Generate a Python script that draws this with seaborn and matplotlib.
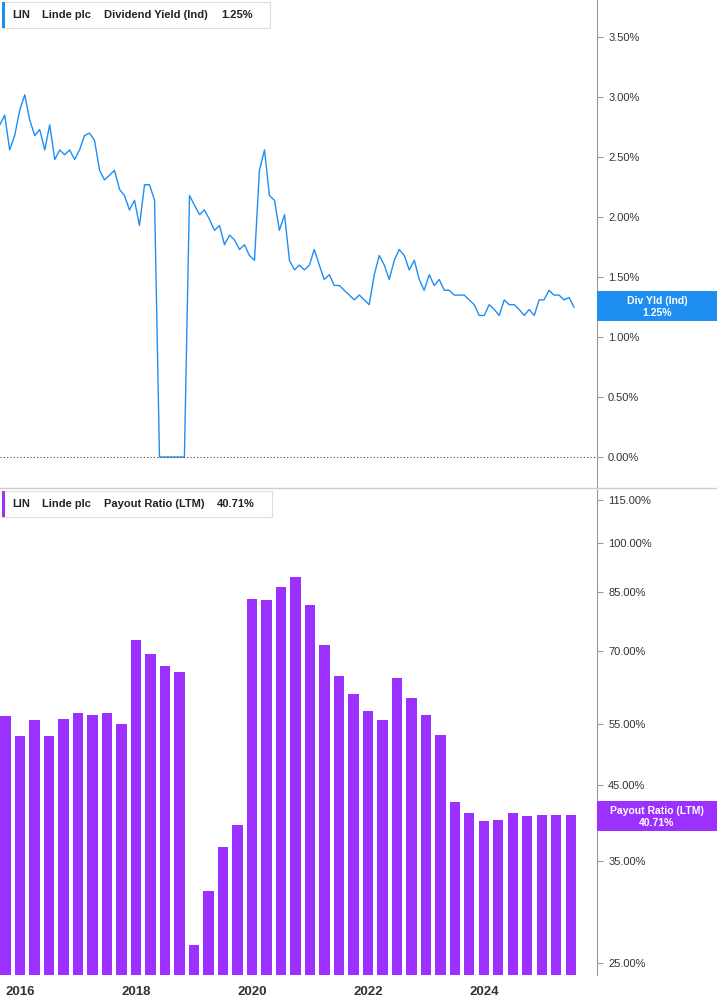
import numpy as np
import pandas as pd
import matplotlib
matplotlib.use("Agg")
import matplotlib.pyplot as plt
import matplotlib.ticker as mt
import seaborn as sns

# ---- data ----
yield_vals = [2.77,2.85,2.56,2.68,2.89,3.02,2.81,2.68,2.73,2.56,2.77,2.48,2.56,2.52,2.56,2.48,
              2.56,2.68,2.70,2.64,2.39,2.31,2.35,2.39,2.23,2.18,2.06,2.14,1.93,2.27,2.27,2.14,
              0,0,0,0,0,0,2.18,2.10,2.02,2.06,1.98,1.89,1.93,1.77,1.85,1.81,1.73,1.77,1.68,1.64,
              2.39,2.56,2.18,2.14,1.89,2.02,1.64,1.56,1.60,1.56,1.60,1.73,1.60,1.48,1.52,1.43,
              1.43,1.39,1.35,1.31,1.35,1.31,1.27,1.52,1.68,1.60,1.48,1.64,1.73,1.68,1.56,1.64,
              1.48,1.39,1.52,1.43,1.48,1.39,1.39,1.35,1.35,1.35,1.31,1.27,1.18,1.18,1.27,1.23,
              1.18,1.31,1.27,1.27,1.23,1.18,1.23,1.18,1.31,1.31,1.39,1.35,1.35,1.31,1.33,1.25]
yield_start = "2015-08-27"

payout_vals = [56.5,52.9,55.7,52.9,55.9,57.0,56.6,57.0,55.0,72.6,69.3,66.6,65.3,26.5,31.7,36.7,
               39.4,83.1,82.7,86.5,89.4,81.5,71.4,64.5,60.8,57.4,55.7,64.1,60.0,56.6,53.0,42.5,
               41.0,40.0,40.1,41.0,40.6,40.8,40.8,40.71]
payout_start = 2015.75

yield_ticks = [0, 0.5, 1.0, 1.5, 2.0, 2.5, 3.0, 3.5]
payout_ticks = [25, 35, 45, 55, 70, 85, 100, 115]
year_ticks = [2016, 2018, 2020, 2022, 2024]

BLUE = "#1f8ef1"
PURPLE = "#9b30ff"
FONT = "Liberation Sans"

dates = pd.date_range(yield_start, periods=len(yield_vals), freq="755h")
yrs = dates.year + (dates.dayofyear - 1) / 365.25
df_y = pd.DataFrame({"t": yrs, "v": yield_vals})
df_p = pd.DataFrame({"t": payout_start + np.arange(len(payout_vals)) * 0.25, "v": payout_vals})

plt.rcParams["font.family"] = FONT
fig = plt.figure(figsize=(7.17, 10.05), dpi=100)
W = 597 / 717
ax1 = fig.add_axes([0, 1 - 487 / 1005, W, 487 / 1005])
ax2 = fig.add_axes([0, 30 / 1005, W, 485 / 1005])

sns.lineplot(data=df_y, x="t", y="v", ax=ax1, color=BLUE, lw=1.0)
ax1.axhline(0, color="#444444", ls=(0, (1, 2)), lw=0.8)
ax1.set_ylim(-0.25, 3.81)

sns.barplot(data=df_p, x="t", y="v", ax=ax2, native_scale=True, color=PURPLE,
            saturation=1, width=0.7)
ax2.set_yscale("log")
ax2.set_ylim(24.03, 119)

for ax in (ax1, ax2):
    ax.set_xlim(2015.655, 2025.95)
    ax.yaxis.tick_right()
    ax.set_xlabel(""); ax.set_ylabel("")
    for s in ("top", "left", "bottom"):
        ax.spines[s].set_visible(False)
    ax.spines["right"].set_color("#999999")
    ax.tick_params(axis="y", length=4, color="#999999", labelsize=8, labelcolor="#333333", pad=4)

ax1.set_yticks(yield_ticks)
ax1.yaxis.set_major_formatter(mt.FuncFormatter(lambda v, p: f"{v:.2f}%"))
ax1.set_xticks([])
ax2.yaxis.set_minor_locator(mt.NullLocator())
ax2.set_yticks(payout_ticks)
ax2.yaxis.set_major_formatter(mt.FuncFormatter(lambda v, p: f"{v:.2f}%"))
ax2.set_xticks(year_ticks)
ax2.set_xticklabels([str(y) for y in year_ticks])
ax2.tick_params(axis="x", length=0, labelsize=9.5, labelcolor="#333333", pad=8)
for lbl in ax2.get_xticklabels():
    lbl.set_fontweight("bold")

# separator
fig.add_artist(plt.Line2D([0, 1], [1 - 488 / 1005] * 2, color="#cccccc", lw=1))

# header legends
def header(y, parts, color, width):
    fig.patches.append(plt.Rectangle((2 / 717, 1 - (y + 13) / 1005), width / 717, 26 / 1005,
                                     transform=fig.transFigure, fc="white", ec="#dddddd", lw=0.8))
    fig.patches.append(plt.Rectangle((2 / 717, 1 - (y + 13) / 1005), 3 / 717, 26 / 1005,
                                     transform=fig.transFigure, fc=color, ec="none"))
    for x, t in parts:
        fig.text(x / 717, 1 - y / 1005, t, fontsize=8, fontweight="bold", va="center",
                 color="#222222")

header(15, [(12, "LIN"), (42, "Linde plc"), (104, "Dividend Yield (Ind)"), (221, "1.25%")], BLUE, 268)
header(504, [(12, "LIN"), (42, "Linde plc"), (104, "Payout Ratio (LTM)"), (217, "40.71%")], PURPLE, 270)

# right tags
def tag(y0, y1, color, l1, l2):
    fig.patches.append(plt.Rectangle((W, 1 - y1 / 1005), 1 - W, (y1 - y0) / 1005,
                                     transform=fig.transFigure, fc=color, ec="none"))
    cx = (W + 1) / 2
    fig.text(cx, 1 - (y0 + (y1 - y0) * 0.32) / 1005, l1, color="white", fontsize=7.5,
             ha="center", va="center", fontweight="bold")
    fig.text(cx, 1 - (y0 + (y1 - y0) * 0.72) / 1005, l2, color="white", fontsize=7.5,
             ha="center", va="center", fontweight="bold")

tag(291, 321, BLUE, "Div Yld (Ind)", "1.25%")
tag(801, 831, PURPLE, "Payout Ratio (LTM)", "40.71%")

fig.savefig("out.png", dpi=100)
